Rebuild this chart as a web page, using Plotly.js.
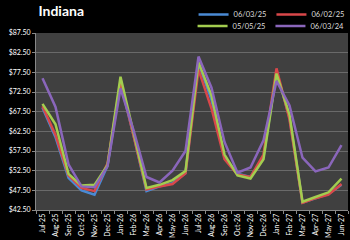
<!DOCTYPE html>
<html>
<head>
<meta charset="utf-8">
<script src="https://cdn.plot.ly/plotly-3.0.1.min.js"></script>
<style>
html,body{margin:0;padding:0;background:#000;}
#chart{width:350px;height:240px;}
</style>
</head>
<body>
<div id="chart"></div>
<script>
const months = ["Jul-25","Aug-25","Sep-25","Oct-25","Nov-25","Dec-25","Jan-26","Feb-26","Mar-26","Apr-26","May-26","Jun-26",
                "Jul-26","Aug-26","Sep-26","Oct-26","Nov-26","Dec-26","Jan-27","Feb-27","Mar-27","Apr-27","May-27","Jun-27"];
const s060325 = [68.5,61.0,50.7,47.5,46.4,53.7,74.8,61.5,47.3,48.5,49.3,51.9,79.7,70.5,56.0,51.7,50.9,56.0,77.6,66.0,44.4,45.6,46.6,48.9];
const s060225 = [68.9,61.6,51.3,48.1,47.3,54.3,75.2,61.8,47.7,48.5,49.1,51.8,78.2,68.3,55.4,51.5,50.9,56.6,78.5,65.5,44.3,45.5,46.4,49.1];
const s050525 = [69.5,64.3,51.7,48.7,48.9,53.9,76.4,62.0,48.1,48.9,50.1,52.4,80.1,71.6,56.6,51.3,50.5,55.4,77.2,66.7,44.6,45.8,47.0,50.5];
const s060324 = [76.0,68.7,54.1,48.5,48.3,53.6,73.4,62.8,50.9,49.5,52.5,57.5,81.5,73.6,59.8,52.0,53.3,60.2,75.3,69.1,55.8,52.3,53.3,59.0];
const seriesNames = ["06/03/25","06/02/25","05/05/25","06/03/24"];
const colors = ["#4a8ad4","#d9474a","#a3cd4f","#8a66bb"];
const values = [s060325, s060225, s050525, s060324];
const legendIds = ["legend","legend","legend2","legend2"];

const traces = values.map((v,i)=>({
  x: months, y: v, type: "scatter", mode: "lines",
  name: seriesNames[i],
  line: {color: colors[i], width: 2.5},
  legend: legendIds[i]
}));

const font = "Lato, 'Open Sans', sans-serif";
const legendBase = {orientation: "h", x: 1.005, xanchor: "right", yanchor: "middle",
           font: {family: font, size: 7.5, color: "#dddddd"}, bgcolor: "rgba(0,0,0,0)",
           traceorder: "normal", itemwidth: 30, tracegroupgap: 0};
const layout = {
  width: 350, height: 240,
  paper_bgcolor: "#000000",
  plot_bgcolor: "#404040",
  margin: {l: 36, r: 0, t: 25, b: 30, pad: 0},
  font: {family: font, color: "#ffffff", size: 7},
  title: {text: "<b>Indiana</b>", x: 0.008, xanchor: "left", xref: "paper", y: 0.955, yanchor: "middle",
          yref: "container", font: {family: font, size: 14, color: "#ffffff"}},
  showlegend: true,
  legend: Object.assign({}, legendBase, {y: 1.105}),
  legend2: Object.assign({}, legendBase, {y: 1.04}),
  xaxis: {
    type: "category", range: [-0.5, 23.5], tickangle: -90, showgrid: false,
    ticks: "outside", ticklen: 3, tickcolor: "#888888", tickson: "boundaries",
    showline: true, linecolor: "#888888", linewidth: 1,
    tickfont: {family: font, size: 7, color: "#ffffff"}, automargin: false
  },
  yaxis: {
    range: [42.5, 87.5], dtick: 5, tick0: 42.5, tickformat: "$.2f",
    showgrid: true, gridcolor: "#6a6a6a", gridwidth: 1, zeroline: false,
    ticks: "outside", ticklen: 3, tickcolor: "#888888",
    showline: true, linecolor: "#888888", linewidth: 1,
    tickfont: {family: font, size: 7, color: "#ffffff"}, automargin: false
  }
};

Plotly.newPlot("chart", traces, layout, {displayModeBar: false, staticPlot: true});
</script>
</body>
</html>
